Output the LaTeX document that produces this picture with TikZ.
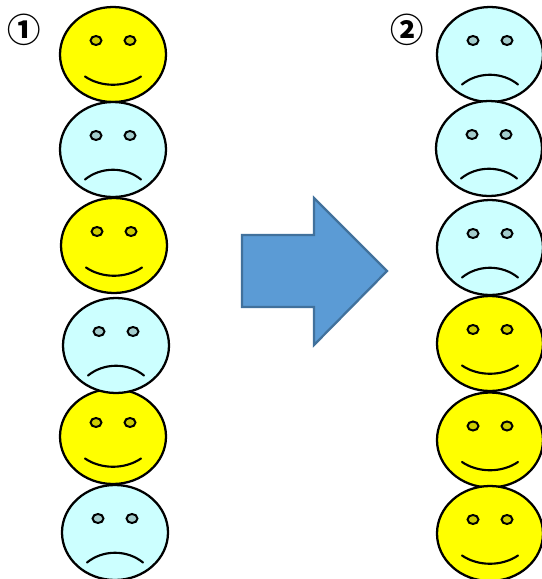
\documentclass[tikz,border=0pt]{standalone}
\usepackage{fontspec}
\newfontfamily\cjk{Noto Sans CJK JP Black}
\usetikzlibrary{calc}
\definecolor{happy}{RGB}{255,255,0}
\definecolor{happyeye}{RGB}{205,205,0}
\definecolor{sad}{RGB}{204,255,255}
\definecolor{sadeye}{RGB}{163,204,204}
\definecolor{arrowfill}{RGB}{91,155,213}
\definecolor{arrowline}{RGB}{65,113,156}
\tikzset{
	face/.style={draw=black, line width=1.7pt},
	eye/.style={draw=black, line width=1.5pt},
	mouth/.style={draw=black, line width=1.6pt, line cap=round},
	number/.style={font=\cjk\fontsize{25}{25}\selectfont, inner sep=0pt},
	goodface/.pic={
		\draw[face, fill=happy] (0,0) ellipse [x radius=53, y radius=47.5];
		\draw[eye, fill=happyeye] (-17,-14) ellipse [x radius=5.5, y radius=4.5];
		\draw[eye, fill=happyeye] (17,-14) ellipse [x radius=5.5, y radius=4.5];
		\draw[mouth] (-28,22) .. controls (-12,33) and (12,33) .. (28,22);
	},
	badface/.pic={
		\draw[face, fill=sad] (0,0) ellipse [x radius=53, y radius=47.5];
		\draw[eye, fill=sadeye] (-17,-14) ellipse [x radius=5.5, y radius=4.5];
		\draw[eye, fill=sadeye] (17,-14) ellipse [x radius=5.5, y radius=4.5];
		\draw[mouth] (-28,30) .. controls (-12,17) and (12,17) .. (28,30);
	}
}
\begin{document}
\begin{tikzpicture}[x=0.75pt, y=-0.75pt]
	\useasboundingbox (0,0) rectangle (542,579);
	
	% Left column
	\foreach \x/\y in {113/54.5, 114/245.5, 113/436.5} {
		\pic at (\x,\y) {goodface};
	}
	\foreach \x/\y in {113/149.5, 116/345.5, 115/532.5} {
		\pic at (\x,\y) {badface};
	}
	
	% Right column
	\foreach \x/\y in {490/54.5, 489/148.5, 490/247.5} {
		\pic at (\x,\y) {badface};
	}
	\foreach \x/\y in {490/343.5, 490/440, 490/533.5} {
		\pic at (\x,\y) {goodface};
	}
	
	% Arrow
	\draw[draw=arrowline, line width=1.7pt, fill=arrowfill, line join=miter]
		(242,235) -- (314,235) -- (314,198) -- (387,271) -- (314,345)
		-- (314,307) -- (242,307) -- cycle;
	
	% Labels
	\node[number] (first) at (24,30) {①};
	\node[number] (second) at (407,30) {②};
	
\end{tikzpicture}
\end{document}
